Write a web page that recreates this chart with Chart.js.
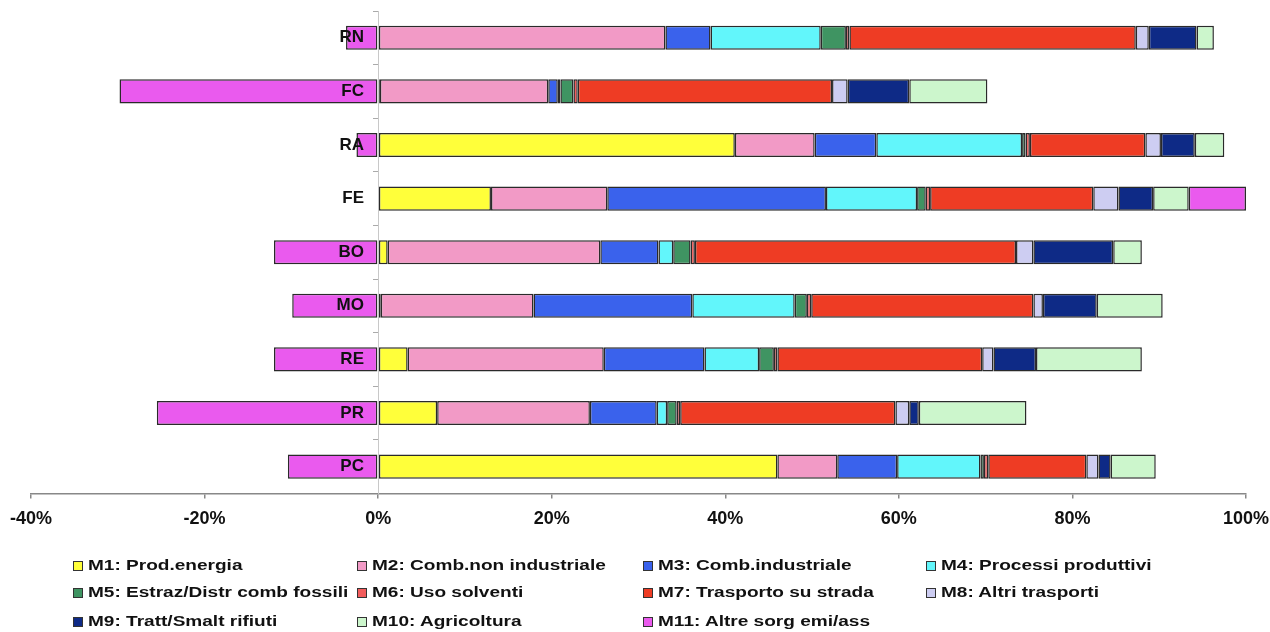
<!DOCTYPE html>
<html>
<head>
<meta charset="utf-8">
<script src="https://cdn.jsdelivr.net/npm/chart.js@4.4.1/dist/chart.umd.min.js"></script>
<style>
  html, body { margin: 0; padding: 0; background: #fff; }
  #wrap { position: relative; width: 1270px; height: 632px; overflow: hidden; }
  #c { position: absolute; left: 0; top: 0; }
  .lg { position: absolute; height: 18px; }
  .lg i { position: absolute; left: 0; top: 4px; width: 8px; height: 8px; border: 1px solid #333; }
  .lg span { position: absolute; left: 15px; top: 0; font-family: "Liberation Sans", Arial, sans-serif;
        font-weight: bold; font-size: 14px; line-height: 17px; color: #111; white-space: nowrap;
        transform: scaleX(1.36); transform-origin: 0 50%; }
</style>
</head>
<body>
<div id="wrap">
  <canvas id="c" width="1270" height="632"></canvas>
</div>
<script>
// Categories (top to bottom)
const categories = ['RN', 'FC', 'RA', 'FE', 'BO', 'MO', 'RE', 'PR', 'PC'];

// Series names
const seriesNames = [
  'M1: Prod.energia', 'M2: Comb.non industriale', 'M3: Comb.industriale', 'M4: Processi produttivi',
  'M5: Estraz/Distr comb fossili', 'M6: Uso solventi', 'M7: Trasporto su strada', 'M8: Altri trasporti',
  'M9: Tratt/Smalt rifiuti', 'M10: Agricoltura', 'M11: Altre sorg emi/ass'
];

// Series values (% share), order follows categories
const m1  = [0,    0.2,  41.1, 13.0, 1.1,  0.3,  3.4,  6.8,  46.0];
const m2  = [33.1, 19.4, 9.2,  13.4, 24.5, 17.6, 22.6, 17.6, 6.9];
const m3  = [5.2,  1.1,  7.1,  25.2, 6.7,  18.3, 11.6, 7.7,  6.9];
const m4  = [12.7, 0.3,  16.8, 10.5, 1.7,  11.8, 6.3,  1.2,  9.6];
const m5  = [2.9,  1.5,  0.4,  1.0,  2.0,  1.4,  1.7,  1.1,  0.4];
const m6  = [0.4,  0.5,  0.5,  0.5,  0.5,  0.5,  0.4,  0.4,  0.5];
const m7  = [33.0, 29.3, 13.3, 18.8, 37.0, 25.6, 23.6, 24.8, 11.3];
const m8  = [1.5,  1.8,  1.8,  2.9,  2.0,  1.1,  1.3,  1.6,  1.4];
const m9  = [5.5,  7.1,  3.9,  4.0,  9.2,  6.2,  4.9,  1.1,  1.4];
const m10 = [2.0,  9.0,  3.4,  4.1,  3.3,  7.6,  12.2, 12.4, 5.2];
const m11 = [-3.7, -29.8, -2.5, 6.6, -12.0, -9.9, -12.0, -25.5, -10.4];

// X-axis ticks
const xTicks = [-40, -20, 0, 20, 40, 60, 80, 100];

const seriesValues = [m1, m2, m3, m4, m5, m6, m7, m8, m9, m10, m11];
const seriesColors = ['#ffff3a', '#f29ac6', '#3a62ec', '#62f6fb', '#3f9462', '#f25c5c',
                      '#ee3c24', '#cdcdf2', '#0e2a86', '#ccf6cc', '#ea5aee'];

const datasets = seriesNames.map((name, i) => ({
  label: name,
  data: seriesValues[i],
  backgroundColor: seriesColors[i],
  borderColor: '#2a2a2a',
  borderWidth: 1.5,
  borderSkipped: false,
  barPercentage: 0.45,
  categoryPercentage: 1.0
}));

new Chart(document.getElementById('c'), {
  type: 'bar',
  data: { labels: categories, datasets },
  options: {
    indexAxis: 'y',
    responsive: false,
    animation: false,
    layout: { padding: { left: 31, right: 24, top: 11, bottom: 92 } },
    plugins: { legend: { display: false }, tooltip: { enabled: false } },
    scales: {
      x: {
        stacked: true,
        min: -40, max: 100,
        afterBuildTicks: (scale) => { scale.ticks = xTicks.map(v => ({ value: v })); },
        afterFit: (scale) => { scale.paddingLeft = 0; scale.paddingRight = 0; },
        ticks: {
          callback: (v) => v + '%',
          font: { family: 'Liberation Sans', weight: 'bold', size: 18 },
          color: '#111',
          padding: 10,
          maxRotation: 0
        },
        grid: { drawOnChartArea: false, tickLength: 5, color: '#888', lineWidth: 1.5 },
        border: { display: true, color: '#888', width: 1.5 }
      },
      y: {
        stacked: true,
        position: { x: 0 },
        afterFit: (scale) => { scale.paddingTop = 0; scale.paddingBottom = 0; },
        ticks: {
          // trailing spaces keep the right-aligned label clear of the zero axis
          callback: function (v) { return this.getLabelForValue(v) + '   '; },
          font: { family: 'Liberation Sans', weight: 'bold', size: 17 },
          color: '#111',
          z: 2
        },
        grid: { drawOnChartArea: false, tickLength: 5, color: '#aaa', offset: true },
        border: { display: true, color: '#c8c8c8', width: 1 }
      }
    }
  }
});

// HTML legend (4 columns, row-major)
const colX = [73, 357, 643, 926];
const rowY = [557, 584, 613];
const wrap = document.getElementById('wrap');
seriesNames.forEach((name, i) => {
  const d = document.createElement('div');
  d.className = 'lg';
  d.style.left = colX[i % 4] + 'px';
  d.style.top = rowY[Math.floor(i / 4)] + 'px';
  d.innerHTML = '<i style="background:' + seriesColors[i] + '"></i><span></span>';
  d.querySelector('span').textContent = name;
  wrap.appendChild(d);
});
</script>
</body>
</html>
